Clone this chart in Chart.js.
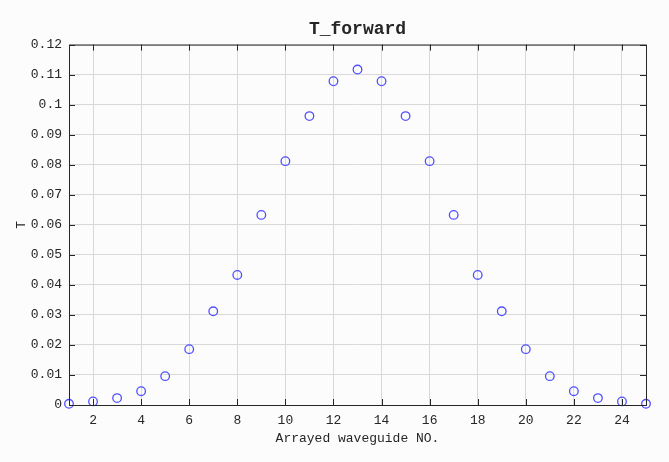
<!DOCTYPE html>
<html>
<head>
<meta charset="utf-8">
<script src="https://cdn.jsdelivr.net/npm/chart.js@4"></script>
<style>
  html, body { margin: 0; padding: 0; background: #fcfcfc; }
  #wrap { width: 669px; height: 462px; }
</style>
</head>
<body>
<div id="wrap"><canvas id="myChart"></canvas></div>
<script>
  // waveguide numbers and forward transmission
  const waveguides = [1, 2, 3, 4, 5, 6, 7, 8, 9, 10, 11, 12, 13, 14, 15, 16, 17, 18, 19, 20, 21, 22, 23, 24, 25];
  const tForward = [0.0004, 0.0012, 0.0023, 0.0046, 0.0096, 0.0186, 0.0312, 0.0433, 0.0633, 0.0812, 0.0962, 0.1078, 0.1117,
                    0.1078, 0.0962, 0.0812, 0.0633, 0.0433, 0.0312, 0.0186, 0.0096, 0.0046, 0.0023, 0.0012, 0.0004];
  const xTicks = [2, 4, 6, 8, 10, 12, 14, 16, 18, 20, 22, 24];
  const yTicks = [0, 0.01, 0.02, 0.03, 0.04, 0.05, 0.06, 0.07, 0.08, 0.09, 0.1, 0.11, 0.12];

  const mono = 'Liberation Mono, DejaVu Sans Mono, monospace';

  // box around the axes with inward ticks on all four sides
  const boxPlugin = {
    id: 'box',
    afterDatasetsDraw(chart) {
      const { ctx, chartArea: a, scales } = chart;
      ctx.save();
      ctx.strokeStyle = '#262626';
      ctx.lineWidth = 1;
      ctx.strokeRect(a.left + 0.5, a.top + 0.5, a.right - a.left, a.bottom - a.top);
      ctx.beginPath();
      scales.x.ticks.forEach(t => {
        const px = Math.round(scales.x.getPixelForValue(t.value)) + 0.5;
        ctx.moveTo(px, a.bottom); ctx.lineTo(px, a.bottom - 6);
        ctx.moveTo(px, a.top); ctx.lineTo(px, a.top + 6);
      });
      scales.y.ticks.forEach(t => {
        const py = Math.round(scales.y.getPixelForValue(t.value)) + 0.5;
        ctx.moveTo(a.left, py); ctx.lineTo(a.left + 6, py);
        ctx.moveTo(a.right, py); ctx.lineTo(a.right - 6, py);
      });
      ctx.stroke();
      ctx.restore();
    }
  };

  const ctx = document.getElementById('myChart');

  new Chart(ctx, {
    type: 'scatter',
    data: {
      datasets: [{
        label: 'T_forward',
        data: waveguides.map((w, i) => ({ x: w, y: tForward[i] })),
        pointStyle: 'circle',
        pointRadius: 4.3,
        pointBorderWidth: 1.3,
        pointBorderColor: 'rgb(80, 80, 255)',
        pointBackgroundColor: 'rgba(0,0,0,0)',
        showLine: false,
        clip: false
      }]
    },
    options: {
      responsive: true,
      maintainAspectRatio: false,
      animation: false,
      layout: { padding: { left: 0, right: 23, top: 0, bottom: 0 } },
      plugins: {
        legend: { display: false },
        tooltip: { enabled: false },
        title: {
          display: true,
          text: 'T_forward',
          fullSize: false,
          color: '#262626',
          font: { family: mono, size: 18, weight: 'bold' },
          padding: { top: 19, bottom: 4 }
        }
      },
      scales: {
        x: {
          type: 'linear',
          min: 1,
          max: 25,
          afterBuildTicks: s => { s.ticks = xTicks.map(v => ({ value: v })); },
          afterFit: s => { s.height = 57; },
          grid: { color: '#d9d9d9', drawTicks: false },
          border: { display: false },
          ticks: { color: '#262626', padding: 8, font: { family: mono, size: 13 } },
          title: {
            display: true,
            text: 'Arrayed waveguide NO.',
            color: '#262626',
            font: { family: mono, size: 13 },
            padding: { top: 2, bottom: 16 }
          }
        },
        y: {
          type: 'linear',
          min: 0,
          max: 0.12,
          afterBuildTicks: s => { s.ticks = yTicks.map(v => ({ value: v })); },
          afterFit: s => { s.width = 69; },
          grid: { color: '#d9d9d9', drawTicks: false },
          border: { display: false },
          ticks: {
            color: '#262626',
            padding: 7,
            font: { family: mono, size: 13 },
            callback: v => String(+v.toFixed(2))
          },
          title: {
            display: true,
            text: 'T',
            color: '#262626',
            font: { family: mono, size: 13 },
            padding: { top: 14, bottom: 0 }
          }
        }
      }
    },
    plugins: [boxPlugin]
  });
</script>
</body>
</html>
